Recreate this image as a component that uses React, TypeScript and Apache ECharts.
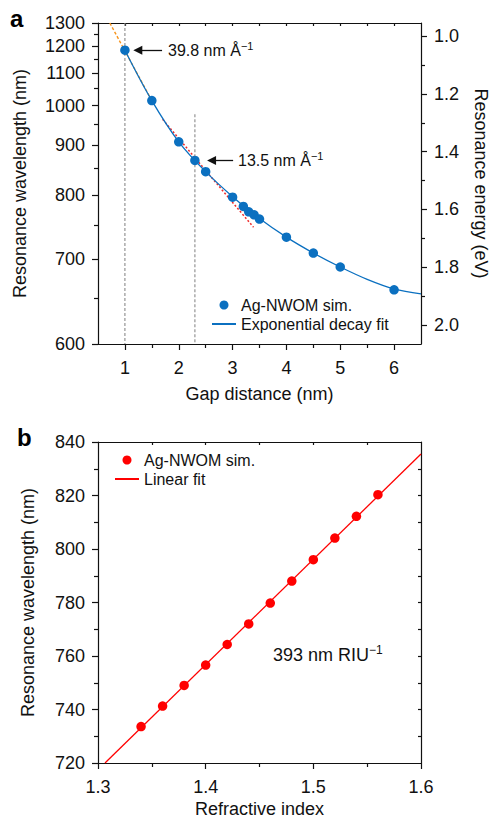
import React, { useEffect, useRef } from "react";
import * as echarts from "echarts";

const HC = 1239.84; // eV·nm, wavelength <-> photon energy

// ---------- Panel a ----------
const gapDistance = [1.0, 1.5, 2.0, 2.3, 2.5, 3.0, 3.2, 3.3, 3.4, 3.5, 4.0, 4.5, 5.0, 6.0];
const gapWavelength = [1183, 1014, 908, 867, 844, 796, 780, 771, 766, 759, 731, 708, 689, 660];
const expFitGap = [1.0, 1.5, 2.0, 2.5, 3.0, 3.5, 4.0, 4.5, 5.0, 5.5, 6.0, 6.5];
const expFitWavelength = [1183, 1014, 908, 844, 797, 760, 731, 708, 689, 673, 661, 655];
const steepTangentGap = [0.72, 1.5];
const steepTangentWavelength = [1300, 1014];
const shallowTangentGap = [1.7, 3.39];
const shallowTangentWavelength = [963, 746];
const guideGap = [1.0, 2.3];
const guideTopWavelength = [1300, 976];
const guideBottomWavelength = 600;
const arrowFromGap = [1.69, 3.01];
const arrowToGap = [1.24, 2.61];
const arrowWavelength = [1183, 867];
const sensitivityLabelsA = ["39.8 nm Å", "13.5 nm Å"];

const gapMin = 0.5;
const gapMax = 6.5;
const waveMin = 600;
const waveMax = 1300;
const gapMajor = [1, 2, 3, 4, 5, 6];
const gapMinor = [1.5, 2.5, 3.5, 4.5, 5.5];
const gapTop = [1, 1.5, 2, 2.5, 3, 3.5, 4, 4.5, 5, 5.5, 6];
const waveMajor = [600, 700, 800, 900, 1000, 1100, 1200, 1300];
const waveMinor = [650, 750, 850, 950, 1050, 1150, 1250];
const energyMajor = [1.0, 1.2, 1.4, 1.6, 1.8, 2.0];
const energyMinor = [1.1, 1.3, 1.5, 1.7, 1.9];

// ---------- Panel b ----------
const refractiveIndex = [1.34, 1.36, 1.38, 1.4, 1.42, 1.44, 1.46, 1.48, 1.5, 1.52, 1.54, 1.56];
const riWavelength = [733.6, 741.3, 749.0, 756.6, 764.3, 772.0, 779.8, 788.0, 796.0, 804.1, 812.2, 820.3];
const linFitIndex = [1.3065, 1.6];
const linFitWavelength = [720, 835.5];
const sensitivityLabelB = "393 nm RIU";

const riMin = 1.3;
const riMax = 1.6;
const wlbMin = 720;
const wlbMax = 840;
const riMajor = [1.3, 1.4, 1.5, 1.6];
const riMinor = [1.35, 1.45, 1.55];
const riTop = [1.35, 1.4, 1.45, 1.5, 1.55];
const wlbMajor = [720, 740, 760, 780, 800, 820, 840];
const wlbMinor = [730, 750, 770, 790, 810, 830];
const wlbRight = [730, 740, 750, 760, 770, 780, 790, 800, 810, 820, 830];

// ---------- styling ----------
const FONT = "'Liberation Sans', Arial, Helvetica, sans-serif";
const INK = "#111";
const BLUE = "#0b70c0";
const RED = "#ff0000";
const ORANGE = "#f7941d";
const DRED = "#ee2a2a";
const GRAY = "#8a8a8a";

const toE = (w: number) => HC / w;

function axis(opts: any) {
  const {
    gridIndex, position, min, max, inverse = false,
    line = false, ticks, tickLen = 6, inside = false,
    labels, formatter, margin = 13,
    name, nameGap, nameRotate,
  } = opts;
  const a: any = {
    type: "value",
    gridIndex,
    position,
    min,
    max,
    inverse,
    offset: 0,
    axisLine: { show: line, onZero: false, lineStyle: { color: INK, width: 1.2 } },
    axisTick: {
      show: !!ticks,
      customValues: ticks,
      length: tickLen,
      inside,
      lineStyle: { color: INK, width: 1.2 },
    },
    axisLabel: labels
      ? {
          show: true,
          customValues: labels,
          formatter,
          margin,
          fontSize: 18,
          color: INK,
          fontFamily: FONT,
          hideOverlap: false,
        }
      : { show: false },
    splitLine: { show: false },
    minorTick: { show: false },
    minorSplitLine: { show: false },
  };
  if (name) {
    a.name = name;
    a.nameLocation = "middle";
    a.nameGap = nameGap;
    a.nameMoveOverlap = false;
    if (nameRotate !== undefined) a.nameRotate = nameRotate;
    a.nameTextStyle = { fontSize: 18, color: INK, fontFamily: FONT };
  }
  return a;
}

function buildOption() {
  const eMin = toE(waveMax);
  const eMax = toE(waveMin);

  const xAxis = [
    axis({
      gridIndex: 0, position: "bottom", min: gapMin, max: gapMax, line: true,
      ticks: gapMajor, labels: gapMajor, formatter: (v: number) => String(v), margin: 15,
      name: "Gap distance (nm)", nameGap: 41,
    }),
    axis({ gridIndex: 0, position: "bottom", min: gapMin, max: gapMax, ticks: gapMinor, tickLen: 4 }),
    axis({ gridIndex: 0, position: "top", min: gapMin, max: gapMax, line: true, ticks: gapTop, tickLen: 3, inside: true }),
    axis({
      gridIndex: 1, position: "bottom", min: riMin, max: riMax, line: true,
      ticks: riMajor, labels: riMajor, formatter: (v: number) => v.toFixed(1), margin: 15,
      name: "Refractive index", nameGap: 37,
    }),
    axis({ gridIndex: 1, position: "bottom", min: riMin, max: riMax, ticks: riMinor, tickLen: 4 }),
    axis({ gridIndex: 1, position: "top", min: riMin, max: riMax, line: true, ticks: riTop, tickLen: 3, inside: true }),
  ];

  const yAxis = [
    axis({
      gridIndex: 0, position: "left", min: eMin, max: eMax, inverse: true, line: true,
      ticks: waveMajor.map(toE), labels: waveMajor.map(toE),
      formatter: (v: number) => String(Math.round(HC / v)), margin: 13,
      name: "Resonance wavelength (nm)", nameGap: 69, nameRotate: 90,
    }),
    axis({ gridIndex: 0, position: "left", min: eMin, max: eMax, inverse: true, ticks: waveMinor.map(toE), tickLen: 4 }),
    axis({
      gridIndex: 0, position: "right", min: eMin, max: eMax, inverse: true, line: true,
      ticks: energyMajor, labels: energyMajor, formatter: (v: number) => v.toFixed(1), margin: 13,
      name: "Resonance energy (eV)", nameGap: 51, nameRotate: -90,
    }),
    axis({ gridIndex: 0, position: "right", min: eMin, max: eMax, inverse: true, ticks: energyMinor, tickLen: 4 }),
    axis({
      gridIndex: 1, position: "left", min: wlbMin, max: wlbMax, line: true,
      ticks: wlbMajor, labels: wlbMajor, formatter: (v: number) => String(v), margin: 13,
      name: "Resonance wavelength (nm)", nameGap: 61, nameRotate: 90,
    }),
    axis({ gridIndex: 1, position: "left", min: wlbMin, max: wlbMax, ticks: wlbMinor, tickLen: 4 }),
    axis({ gridIndex: 1, position: "right", min: wlbMin, max: wlbMax, line: true, ticks: wlbRight, tickLen: 3, inside: true }),
  ];

  const series: any[] = [];

  // dashed vertical guides
  guideGap.forEach((g, i) => {
    series.push({
      type: "line", xAxisIndex: 0, yAxisIndex: 0, symbol: "none", silent: true, z: 1,
      data: [[g, toE(guideTopWavelength[i])], [g, toE(guideBottomWavelength)]],
      lineStyle: { color: GRAY, width: 1.1, type: [3, 2] },
    });
  });

  // tangent lines
  series.push({
    type: "line", xAxisIndex: 0, yAxisIndex: 0, symbol: "none", silent: true, z: 2,
    data: steepTangentGap.map((g, i) => [g, toE(steepTangentWavelength[i])]),
    lineStyle: { color: ORANGE, width: 1.4, type: [3, 2] },
  });
  series.push({
    type: "line", xAxisIndex: 0, yAxisIndex: 0, symbol: "none", silent: true, z: 2,
    data: shallowTangentGap.map((g, i) => [g, toE(shallowTangentWavelength[i])]),
    lineStyle: { color: DRED, width: 1.5, type: [2, 2] },
  });

  // exponential fit
  series.push({
    name: "Exponential decay fit",
    type: "line", xAxisIndex: 0, yAxisIndex: 0, symbol: "none", smooth: 0.35, z: 3,
    data: expFitGap.map((g, i) => [g, toE(expFitWavelength[i])]),
    lineStyle: { color: BLUE, width: 1.3 },
    itemStyle: { color: BLUE },
  });

  // simulation points a
  series.push({
    name: "Ag-NWOM sim.",
    type: "scatter", xAxisIndex: 0, yAxisIndex: 0, symbol: "circle", symbolSize: 9.5, z: 4,
    data: gapDistance.map((g, i) => [g, toE(gapWavelength[i])]),
    itemStyle: { color: BLUE, opacity: 1 },
  });

  // arrows
  series.push({
    type: "line", xAxisIndex: 0, yAxisIndex: 0, symbol: "none", silent: true, data: [], z: 5,
    markLine: {
      silent: true,
      animation: false,
      symbol: ["none", "triangle"],
      symbolSize: 9,
      label: { show: false },
      emphasis: { disabled: true },
      lineStyle: { color: INK, width: 1.3, type: "solid" },
      itemStyle: { color: INK },
      data: arrowFromGap.map((g, i) => [
        { coord: [g, toE(arrowWavelength[i])] },
        { coord: [arrowToGap[i], toE(arrowWavelength[i])] },
      ]),
    },
  });

  // panel b
  series.push({
    name: "Linear fit",
    type: "line", xAxisIndex: 3, yAxisIndex: 4, symbol: "none", z: 3,
    data: linFitIndex.map((n, i) => [n, linFitWavelength[i]]),
    lineStyle: { color: RED, width: 1.3 },
    itemStyle: { color: RED },
  });
  series.push({
    name: "Ag-NWOM sim. ",
    type: "scatter", xAxisIndex: 3, yAxisIndex: 4, symbol: "circle", symbolSize: 9.5, z: 4,
    data: refractiveIndex.map((n, i) => [n, riWavelength[i]]),
    itemStyle: { color: RED, opacity: 1 },
  });

  const legendBase = {
    orient: "vertical",
    itemWidth: 24,
    itemHeight: 9,
    itemGap: 3,
    padding: 0,
    selectedMode: false,
    formatter: (n: string) => n.trim(),
    textStyle: { fontSize: 16, lineHeight: 16, color: INK, fontFamily: FONT, padding: [0, 0, 0, 0] },
  };

  const supText = (main: string, x: number, y: number, size: number) => ({
    type: "text",
    x,
    y,
    silent: true,
    style: {
      text: `{m|${main}}{s|−1}`,
      verticalAlign: "middle",
      align: "left",
      rich: {
        m: { fontSize: size, fontFamily: FONT, fill: INK, lineHeight: size + 4 },
        s: { fontSize: Math.round(size * 0.66), fontFamily: FONT, fill: INK, verticalAlign: "top", lineHeight: Math.round(size * 0.66) },
      },
    },
  });

  return {
    animation: false,
    backgroundColor: "#fff",
    textStyle: { fontFamily: FONT },
    grid: [
      { left: 98, top: 23, width: 323, height: 321, containLabel: false, outerBoundsMode: "none" },
      { left: 98, top: 442, width: 323, height: 321, containLabel: false, outerBoundsMode: "none" },
    ],
    xAxis,
    yAxis,
    legend: [
      {
        ...legendBase, left: 211, top: 297,
        data: ["Ag-NWOM sim.", { name: "Exponential decay fit", itemStyle: { opacity: 0 } }],
      },
      {
        ...legendBase, left: 114, top: 452,
        data: ["Ag-NWOM sim. ", { name: "Linear fit", itemStyle: { opacity: 0 } }],
      },
    ],
    graphic: [
      { type: "text", left: 10, top: 6, silent: true, style: { text: "a", fontSize: 24, fontWeight: "bold", fontFamily: FONT, fill: "#000" } },
      { type: "text", left: 17, top: 425, silent: true, style: { text: "b", fontSize: 24, fontWeight: "bold", fontFamily: FONT, fill: "#000" } },
      supText(sensitivityLabelsA[0], 168, 50, 16),
      supText(sensitivityLabelsA[1], 238, 160, 16),
      supText(sensitivityLabelB, 273, 655, 18),
    ],
    series,
  };
}

export default function App() {
  const ref = useRef<HTMLDivElement>(null);
  useEffect(() => {
    document.body.style.margin = "0";
    const chart = echarts.init(ref.current as HTMLDivElement, null, { renderer: "svg", width: 494, height: 821 });
    chart.setOption(buildOption() as any);
    return () => chart.dispose();
  }, []);
  return <div ref={ref} style={{ width: 494, height: 821 }} />;
}
